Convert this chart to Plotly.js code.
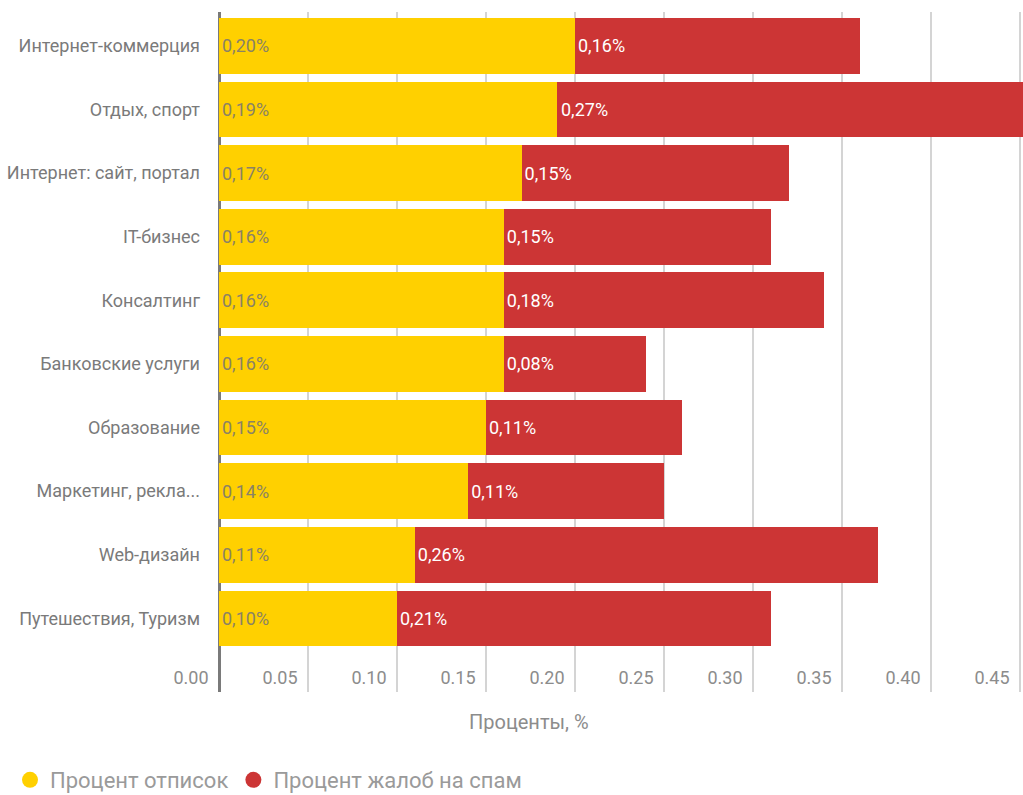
<!DOCTYPE html>
<html>
<head>
<meta charset="utf-8">
<script src="https://cdn.plot.ly/plotly-3.0.1.min.js"></script>
<style>html,body{margin:0;padding:0;background:#fff;}#chart{width:1023px;height:795px;}</style>
</head>
<body>
<div id="chart"></div>
<script>
const categories = ["Интернет-коммерция","Отдых, спорт","Интернет: сайт, портал","IT-бизнес","Консалтинг","Банковские услуги","Образование","Маркетинг, рекла...","Web-дизайн","Путешествия, Туризм"];
const unsubscribe = [0.20,0.19,0.17,0.16,0.16,0.16,0.15,0.14,0.11,0.10];
const spam = [0.16,0.27,0.15,0.15,0.18,0.08,0.11,0.11,0.26,0.21];
const xTicks = [0,0.05,0.10,0.15,0.20,0.25,0.30,0.35,0.40,0.45];
const xTickText = ["0.00","0.05","0.10","0.15","0.20","0.25","0.30","0.35","0.40","0.45"];
const seriesNames = ["Процент отписок","Процент жалоб на спам"];
const colors = ["#FFD000","#CC3535"];

const FONT = "Roboto, 'Liberation Sans', sans-serif";
const fmt = v => v.toFixed(2).replace('.', ',') + '%';
const X_MAX = 804/1780;

const traces = [
  {type:'bar', orientation:'h', y:categories, x:unsubscribe, name:seriesNames[0],
   marker:{color:colors[0]}, text:unsubscribe.map(fmt), textposition:'inside', insidetextanchor:'start',
   textfont:{family:FONT, size:18, color:'#8a8266'}, hoverinfo:'x+y', showlegend:false, cliponaxis:false},
  {type:'bar', orientation:'h', y:categories, x:spam, name:seriesNames[1],
   marker:{color:colors[1]}, text:spam.map(fmt), textposition:'inside', insidetextanchor:'start',
   textfont:{family:FONT, size:18, color:'#ffffff'}, hoverinfo:'x+y', showlegend:false, cliponaxis:false},
  {type:'scatter', mode:'markers', x:[null], y:[null], name:seriesNames[0], marker:{color:colors[0], size:16, symbol:'circle'}},
  {type:'scatter', mode:'markers', x:[null], y:[null], name:seriesNames[1], marker:{color:colors[1], size:16, symbol:'circle'}}
];

// Plotly drops inside text for bars running past the axis range: label those through annotations at the bar start
const overflowLabels = [];
categories.forEach((c, i) => {
  if (unsubscribe[i] + spam[i] > X_MAX) {
    overflowLabels.push({x:unsubscribe[i], y:c, xref:'x', yref:'y', text:fmt(spam[i]), showarrow:false,
      xanchor:'left', yanchor:'middle', xshift:2, font:{family:FONT, size:18, color:'#ffffff'}});
  }
});

const layout = {
  width:1023, height:795,
  margin:{l:217, r:0, t:12, b:103, autoexpand:false},
  barmode:'stack', bargap:0.125,
  paper_bgcolor:'#fff', plot_bgcolor:'#fff',
  font:{family:FONT, color:'#8c8c8c'},
  xaxis:{range:[-2/1780, X_MAX], tickvals:xTicks, ticktext:xTickText,
    showgrid:true, gridcolor:'#d4d4d4', gridwidth:1.5,
    zeroline:true, zerolinecolor:'#7a7a7a', zerolinewidth:3,
    ticks:'', ticklabelposition:'outside', ticklabelshift:-28, ticklabelstandoff:-27,
    tickfont:{family:FONT, size:18, color:'#8c8c8c'}, fixedrange:true, automargin:false},
  yaxis:{type:'category', range:[9.5 + 42/64, -0.5 - 2/64], autorange:false,
    ticks:'', ticklabelstandoff:16, showgrid:false, zeroline:false,
    tickfont:{family:FONT, size:18, color:'#7a7a7a'}, fixedrange:true, automargin:false},
  showlegend:true,
  legend:{orientation:'h', traceorder:'normal', xref:'container', yref:'container', x:10/1023, xanchor:'left', y:(795-780)/795, yanchor:'middle',
    font:{family:FONT, size:22, color:'#9a9a9a'}, itemclick:false, itemdoubleclick:false},
  annotations:[{text:'Проценты, %', xref:'paper', yref:'paper', x:(529-217)/806, y:-0.044, xanchor:'center', yanchor:'middle',
    showarrow:false, font:{family:FONT, size:20, color:'#8c8c8c'}}].concat(overflowLabels)
};

Plotly.newPlot('chart', traces, layout, {displayModeBar:false, staticPlot:true});
</script>
</body>
</html>
